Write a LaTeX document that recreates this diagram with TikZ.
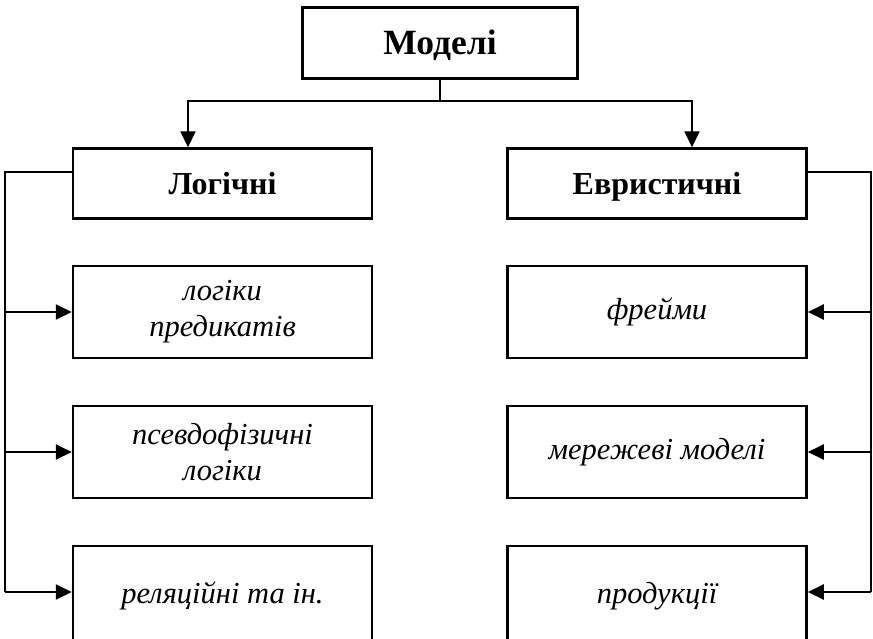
\documentclass[tikz,border=0pt]{standalone}
\usepackage{fontspec}
\setmainfont{Liberation Serif}
\usetikzlibrary{arrows.meta}
\begin{document}
\begin{tikzpicture}[x=1pt,y=-1pt,
  box/.style={draw,line width=2.5pt,minimum width=299pt,minimum height=92pt,inner sep=0pt,align=center},
  headbox/.style={draw,line width=2.5pt,minimum width=299pt,minimum height=70pt,inner sep=0pt,text height=21pt,text depth=0pt,font=\fontsize{32}{36}\selectfont\bfseries},
  subbox/.style={box,font=\fontsize{30.5}{36}\selectfont\itshape},
  conn/.style={line width=2pt},
  arr/.style={conn,-{Triangle[length=16pt,width=15pt]}}]
\useasboundingbox (0,0) rectangle (873,638);
\node[draw,line width=2.8pt,minimum width=275pt,minimum height=71pt,inner sep=0pt,text height=23.5pt,text depth=0pt,font=\fontsize{35.5}{40}\selectfont\bfseries] (top) at (440,43) {Моделі};
\node[headbox] (L) at (222.5,183.5) {Логічні};
\node[headbox] (R) at (657,183.5) {Евристичні};
\node[subbox] (L1) at (222.5,312) {логіки\\предикатів};
\node[subbox] (L2) at (222.5,452) {псевдофізичні\\логіки};
\node[subbox,minimum height=100pt] (L3) at (222.5,596) {\raisebox{4pt}{реляційні та ін.}};
\node[subbox] (R1) at (657,312) {фрейми};
\node[subbox] (R2) at (657,452) {мережеві моделі};
\node[subbox,minimum height=100pt] (R3) at (657,596) {\raisebox{4pt}{продукції}};
\coordinate (j) at (440,101);
\coordinate (lx) at (5,172);
\coordinate (rx) at (871,172);
\coordinate (b) at (0,592);
\draw[conn] (top.south) -- (j);
\draw[arr] (j) -| ([xshift=-34.5pt]L.north);
\draw[arr] (j) -| ([xshift=35pt]R.north);
\draw[conn] (L.west |- lx) -- (lx) -- (lx |- b);
\draw[arr] (lx |- L1.west) -- (L1.west);
\draw[arr] (lx |- L2.west) -- (L2.west);
\draw[arr] (lx |- b) -- (L3.west |- b);
\draw[conn] (R.east |- rx) -- (rx) -- (rx |- b);
\draw[arr] (rx |- R1.east) -- (R1.east);
\draw[arr] (rx |- R2.east) -- (R2.east);
\draw[arr] (rx |- b) -- (R3.east |- b);
\end{tikzpicture}
\end{document}
